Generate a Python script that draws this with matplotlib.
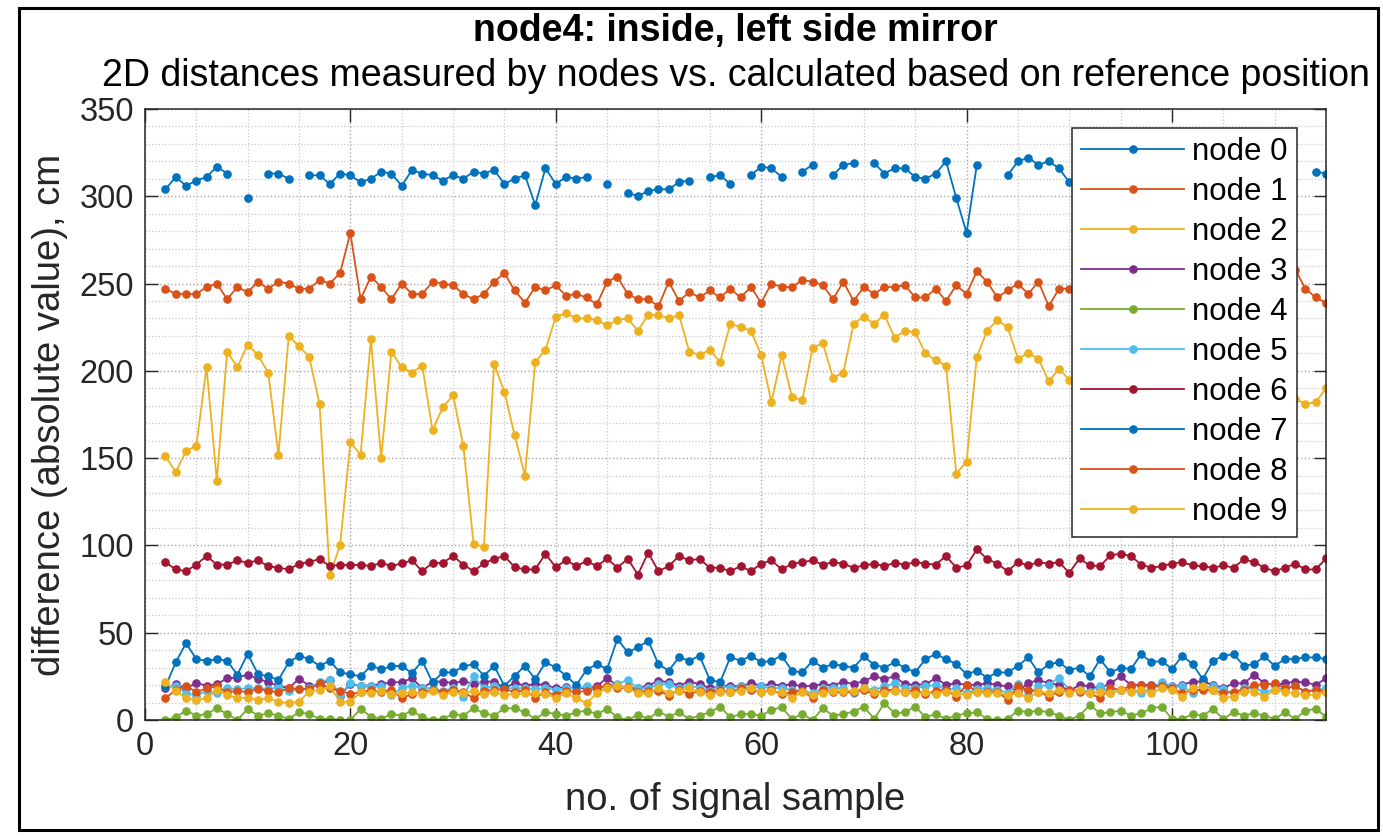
import numpy as np
import matplotlib
matplotlib.use("Agg")
import matplotlib.pyplot as plt
from matplotlib.patches import Rectangle
from matplotlib.ticker import MultipleLocator

plt.rcParams['font.family'] = ['Liberation Sans', 'DejaVu Sans']

n = np.nan

# sample numbers 2..115
samples = np.arange(2, 116)

node0 = [304, 311, 306, 309, 311, 317, 313, n, 299, n,
         313, 313, 310, n, 312, 312, 307, 313, 312, 308,
         310, 314, 313, 306, 315, 313, 312, 309, 312, 310,
         314, 313, 315, 307, 310, 312, 295, 316, 307, 311,
         310, 311, n, 307, n, 302, 300, 303, 304, 304,
         308, 309, n, 311, 312, 307, n, 312, 317, 316,
         311, n, 314, 318, n, 312, 318, 319, n, 319,
         313, 316, 316, 311, 310, 313, 320, 299, 279, 318,
         n, n, 312, 320, 322, 318, 320, 316, 308, n,
         n, n, n, n, n, n, n, n, n, n,
         n, n, n, n, n, n, n, n, n, n,
         n, n, 314, 313]

node1 = [247, 244, 244, 244, 248, 250, 241, 248, 245, 251,
         247, 251, 250, 247, 247, 252, 250, 256, 279, 241,
         254, 248, 241, 250, 244, 244, 251, 250, 249, 244,
         241, 244, 251, 256, 246, 239, 248, 246, 249, 243,
         244, 242, 238, 251, 254, 244, 241, 241, 237, 251,
         240, 245, 242, 246, 242, 247, 242, 248, 239, 250,
         248, 248, 252, 251, 249, 241, 251, 240, 248, 244,
         248, 248, 249, 242, 242, 247, 240, 249, 244, 257,
         251, 242, 246, 250, 244, 251, 237, 247, 247, n,
         n, n, n, n, n, n, n, n, n, n,
         n, n, n, n, n, n, n, n, n, n,
         258, 247, 242, 239]

node2 = [151, 142, 154, 157, 202, 137, 211, 202, 215, 209,
         199, 152, 220, 214, 208, 181, 83, 100, 159, 152,
         218, 150, 211, 202, 199, 203, 166, 179, 186, 157,
         101, 99, 204, 188, 163, 140, 205, 212, 231, 233,
         230, 230, 229, 226, 229, 230, 223, 232, 232, 230,
         232, 211, 209, 212, 205, 227, 225, 223, 209, 182,
         209, 185, 183, 213, 216, 196, 199, 227, 231, 227,
         232, 219, 223, 222, 210, 206, 203, 141, 148, 208,
         223, 229, 225, 207, 210, 207, 194, 201, 195, n,
         n, n, n, n, n, n, n, n, n, n,
         n, n, n, n, n, n, n, n, n, n,
         184, 181, 182, 190]

node3 = [18.2, 20.5, 18.2, 21.1, 19.7, 20.5, 23.9, 24.3, 25.9, 23.6,
         21.6, 19.7, 18.2, 23.6, 19.7, 19.7, 23.0, 14.0, 20.5, 19.7,
         19.7, 20.5, 21.6, 21.6, 23.9, 18.2, 22.0, 22.0, 21.1, 22.4,
         20.5, 22.0, 22.0, 18.2, 21.1, 19.7, 20.5, 20.1, 18.2, 18.6,
         18.2, 18.2, 19.2, 24.3, 19.2, 18.2, 18.2, 19.7, 22.4, 21.6,
         19.7, 22.0, 20.5, 18.2, 19.2, 19.7, 19.2, 21.1, 19.7, 20.5,
         19.7, 20.5, 19.2, 19.7, 20.5, 19.7, 22.0, 20.5, 22.4, 24.9,
         23.6, 24.9, 20.5, 20.1, 20.5, 23.9, 20.1, 21.0, 20.1, 20.1,
         21.0, 20.1, 19.2, 16.5, 21.0, 23.0, 21.0, 20.1, 16.5, 20.1,
         19.2, 18.2, 21.0, 24.9, 20.1, 20.1, 20.1, 20.1, 19.2, 20.1,
         22.0, 22.0, 20.1, 18.2, 21.0, 21.0, 25.9, 21.0, 20.1, 21.0,
         22.0, 21.5, 20.1, 23.9]

node4 = [0, 1.5, 5.4, 2.5, 3.4, 6.7, 3.4, 0, 6.3, 2.5,
         3.8, 2.5, 0.6, 4.4, 3.4, 0.6, 0.6, 0, 0, 6.3,
         1.9, 0.6, 3.4, 2.5, 5.4, 1.5, 0, 0.6, 3.4, 2.5,
         6.7, 3.8, 2.5, 6.7, 6.7, 4.4, 0.6, 4.4, 3.4, 2.5,
         4.4, 5.4, 3.4, 6.3, 1.5, 0, 2.9, 0.6, 4.8, 1.9,
         4.4, 0.6, 2.5, 4.4, 7.7, 1.5, 3.4, 3.4, 2.5, 5.7,
         7.3, 0.6, 3.4, 0, 6.7, 2.5, 3.4, 4.8, 7.7, 0.6,
         9.6, 3.8, 4.4, 7.7, 1.5, 3.4, 0.6, 2.5, 3.8, 4.4,
         0.6, 0, 0.6, 5.4, 4.4, 5.4, 4.4, 2.5, 0, 2.5,
         8.6, 3.8, 4.4, 5.4, 2.5, 3.8, 6.7, 7.7, 0.6, 0.6,
         3.4, 2.5, 6.3, 0.6, 4.4, 2.5, 3.8, 2.5, 0.6, 4.4,
         0.6, 5.4, 6.3, 1.9]

node5 = [19.2, 19.7, 15.3, 14.0, 16.7, 15.3, 18.2, 17.6, 18.2, 18.2,
         17.6, 18.6, 16.7, 17.6, 18.2, 22.0, 23.0, 14.4, 21.1, 19.7,
         19.2, 19.2, 14.4, 18.2, 19.7, 18.2, 18.2, 16.7, 18.2, 13.4,
         24.9, 18.2, 19.7, 18.2, 18.2, 18.2, 17.8, 18.2, 17.2, 18.2,
         18.2, 19.2, 17.2, 19.7, 20.5, 23.0, 18.2, 18.2, 20.5, 20.5,
         18.2, 19.7, 18.2, 16.7, 19.7, 18.2, 19.2, 18.2, 19.2, 18.2,
         18.2, 17.2, 16.7, 15.3, 18.2, 18.2, 18.2, 15.3, 18.2, 17.2,
         19.2, 21.1, 18.2, 18.2, 19.2, 20.1, 17.2, 18.2, 15.3, 17.6,
         18.2, 17.2, 15.7, 20.7, 14.4, 19.2, 20.1, 24.3, 17.2, 17.2,
         16.3, 19.2, 15.3, 17.2, 17.2, 15.3, 18.2, 21.5, 19.2, 19.2,
         15.7, 18.2, 19.2, 17.6, 15.3, 18.2, 18.2, 16.3, 17.2, 18.2,
         19.5, 16.3, 17.2, 18.2]

node6 = [90.4, 86.2, 85.2, 89.0, 93.9, 89.0, 89.0, 91.4, 90.0, 91.4,
         88.1, 87.2, 86.2, 89.5, 90.4, 92.3, 88.0, 89.0, 88.5, 89.0,
         88.1, 90.0, 88.1, 89.7, 91.4, 85.2, 90.0, 90.0, 93.9, 89.0,
         85.2, 89.7, 92.3, 93.9, 87.5, 86.2, 86.2, 95.2, 87.5, 91.6,
         88.1, 91.0, 88.1, 92.5, 87.2, 92.3, 83.3, 95.8, 85.2, 88.1,
         93.9, 91.4, 92.3, 87.2, 87.2, 85.2, 88.1, 85.2, 89.5, 91.4,
         86.2, 89.5, 90.4, 91.4, 89.0, 90.4, 89.5, 87.2, 88.5, 89.5,
         88.1, 90.0, 89.0, 90.4, 89.5, 89.0, 93.9, 87.2, 88.5, 97.7,
         92.3, 89.5, 85.2, 90.4, 88.5, 90.4, 89.5, 90.4, 84.3, 92.5,
         88.5, 88.1, 94.3, 95.2, 93.9, 89.0, 87.2, 88.1, 89.5, 90.4,
         88.5, 88.1, 87.2, 88.5, 87.2, 92.0, 90.4, 87.2, 85.2, 87.2,
         89.5, 86.2, 86.2, 92.5]

node7 = [19.2, 33.0, 44.0, 34.9, 33.9, 34.9, 33.9, 25.9, 37.9, 26.4,
         24.9, 23.0, 33.0, 36.8, 34.9, 31.0, 33.9, 27.2, 26.2, 24.9,
         31.0, 29.1, 30.7, 31.0, 26.8, 33.9, 21.5, 27.2, 27.2, 30.7,
         32.0, 25.3, 31.0, 19.5, 25.3, 31.0, 23.4, 33.0, 30.1, 25.3,
         20.0, 28.7, 32.0, 29.1, 46.4, 38.7, 41.6, 45.4, 32.0, 28.2,
         36.0, 33.9, 36.8, 23.0, 21.6, 36.0, 33.9, 36.8, 33.0, 33.9,
         36.8, 28.2, 27.2, 33.9, 30.0, 32.0, 31.0, 30.0, 36.4, 31.6,
         30.0, 33.0, 30.0, 27.2, 34.9, 37.7, 34.9, 32.0, 26.2, 28.2,
         24.3, 27.2, 27.2, 31.0, 35.8, 27.2, 32.0, 33.0, 28.7, 30.0,
         24.9, 34.9, 27.2, 30.0, 29.1, 37.7, 33.0, 33.9, 29.1, 36.8,
         32.0, 23.4, 33.9, 36.8, 37.7, 31.0, 32.0, 36.4, 31.0, 34.9,
         34.9, 35.8, 35.8, 34.9]

node8 = [12.5, 17.2, 19.7, 15.9, 18.2, 19.2, 15.9, 16.7, 15.9, 17.8,
         16.7, 15.9, 18.2, 17.8, 17.6, 21.1, 18.2, 16.7, 14.8, 15.9,
         17.2, 15.9, 17.2, 12.5, 14.8, 15.9, 17.2, 15.9, 17.2, 15.9,
         12.5, 16.7, 17.2, 17.8, 15.9, 17.2, 12.8, 15.9, 14.4, 16.7,
         15.9, 16.7, 18.2, 19.7, 18.2, 18.6, 15.9, 16.7, 16.7, 14.0,
         17.2, 14.8, 16.7, 15.9, 17.2, 15.9, 18.2, 17.2, 15.9, 17.2,
         14.8, 15.9, 16.7, 12.5, 17.2, 15.9, 15.9, 15.9, 17.2, 14.8,
         17.2, 17.2, 15.9, 17.2, 14.8, 16.7, 17.2, 13.4, 20.1, 16.3,
         16.3, 16.3, 11.5, 19.2, 17.2, 16.3, 13.4, 16.3, 17.2, 16.3,
         15.3, 12.5, 18.2, 17.2, 19.5, 20.1, 19.2, 19.2, 18.2, 15.3,
         17.2, 17.2, 17.2, 15.3, 16.3, 17.2, 20.1, 20.1, 21.0, 18.2,
         19.2, 16.3, 17.2, 16.3]

node9 = [21.6, 16.7, 12.5, 11.5, 12.5, 17.2, 14.4, 12.5, 12.8, 11.5,
         12.5, 10.5, 9.6, 10.5, 16.3, 17.2, 19.2, 10.5, 10.5, 15.9,
         15.3, 16.7, 14.8, 15.3, 15.9, 14.8, 16.7, 14.4, 15.9, 15.3,
         16.7, 14.8, 15.9, 14.4, 14.8, 15.3, 15.3, 14.8, 12.8, 15.3,
         12.5, 9.6, 15.3, 18.2, 19.2, 18.2, 15.3, 15.3, 18.2, 15.3,
         16.7, 18.2, 15.9, 14.4, 15.9, 15.9, 16.7, 18.2, 15.9, 16.7,
         15.9, 12.8, 15.9, 14.4, 15.3, 16.7, 16.7, 16.7, 18.2, 15.9,
         15.3, 16.7, 15.9, 14.8, 15.9, 14.8, 16.3, 15.3, 14.4, 16.3,
         15.3, 15.3, 14.4, 15.3, 12.5, 16.3, 15.3, 17.2, 15.3, 17.2,
         15.3, 16.3, 15.3, 17.2, 16.3, 17.2, 15.3, 18.2, 17.2, 13.4,
         18.2, 19.2, 17.2, 12.5, 13.4, 16.3, 16.3, 13.4, 17.2, 16.3,
         15.3, 14.4, 14.4, 16.3]

series = [node0, node1, node2, node3, node4, node5, node6, node7, node8, node9]
labels = ['node %d' % i for i in range(10)]

# matlab default line colours (cycle of 7)
matlab_colors = ['#0072BD', '#D95319', '#EDB120', '#7E2F8E',
                 '#77AC30', '#4DBEEE', '#A2142F']

fig = plt.figure(figsize=(13.83, 8.36), dpi=100)
ax = fig.add_axes([0.1048, 0.1388, 0.8540, 0.7309])

for i, (vals, lab) in enumerate(zip(series, labels)):
    ax.plot(samples, vals, '-o', color=matlab_colors[i % 7], lw=1.3,
            markersize=5.2, label=lab)

ax.set_xlim(0, 115)
ax.set_ylim(0, 350)
ax.xaxis.set_major_locator(MultipleLocator(20))
ax.xaxis.set_minor_locator(MultipleLocator(5))
ax.yaxis.set_major_locator(MultipleLocator(50))
ax.yaxis.set_minor_locator(MultipleLocator(10))

ax.grid(which='major', linestyle=':', color='#a8a8a8', lw=1.0)
ax.grid(which='minor', linestyle=':', color='#c8c8c8', lw=0.9)
ax.set_axisbelow(True)

dark = '#262626'
for s in ax.spines.values():
    s.set_color(dark)
    s.set_linewidth(1.1)
ax.tick_params(which='major', direction='in', length=9, width=1.0,
               top=True, right=True, colors=dark, labelsize=23.5, pad=8)
ax.tick_params(which='minor', length=0, top=True, right=True)

ax.set_xlabel('no. of signal sample', fontsize=27.5, color=dark, labelpad=14)
ax.set_ylabel('difference (absolute value), cm', fontsize=27.5, color=dark,
              labelpad=8)

cx = 0.1048 + 0.8540 / 2
fig.text(cx, 0.963, 'node4: inside, left side mirror', ha='center',
         va='center', fontsize=27, fontweight='bold')
fig.text(cx, 0.909, '2D distances measured by nodes vs. calculated based on reference position',
         ha='center', va='center', fontsize=27, color='black')

leg = ax.legend(loc='upper right', bbox_to_anchor=(0.9754, 0.969),
                borderaxespad=0, fontsize=22.5, handlelength=3.3,
                handletextpad=0.25, labelspacing=0.32, borderpad=0.3,
                fancybox=False, framealpha=1, edgecolor=dark)
leg.get_frame().set_linewidth(1.1)

fig.add_artist(Rectangle((0.0137, 0.0072), 0.9827, 0.9828,
                         transform=fig.transFigure, fill=False,
                         edgecolor='black', lw=2.2))

fig.savefig('out.png', dpi=100)
